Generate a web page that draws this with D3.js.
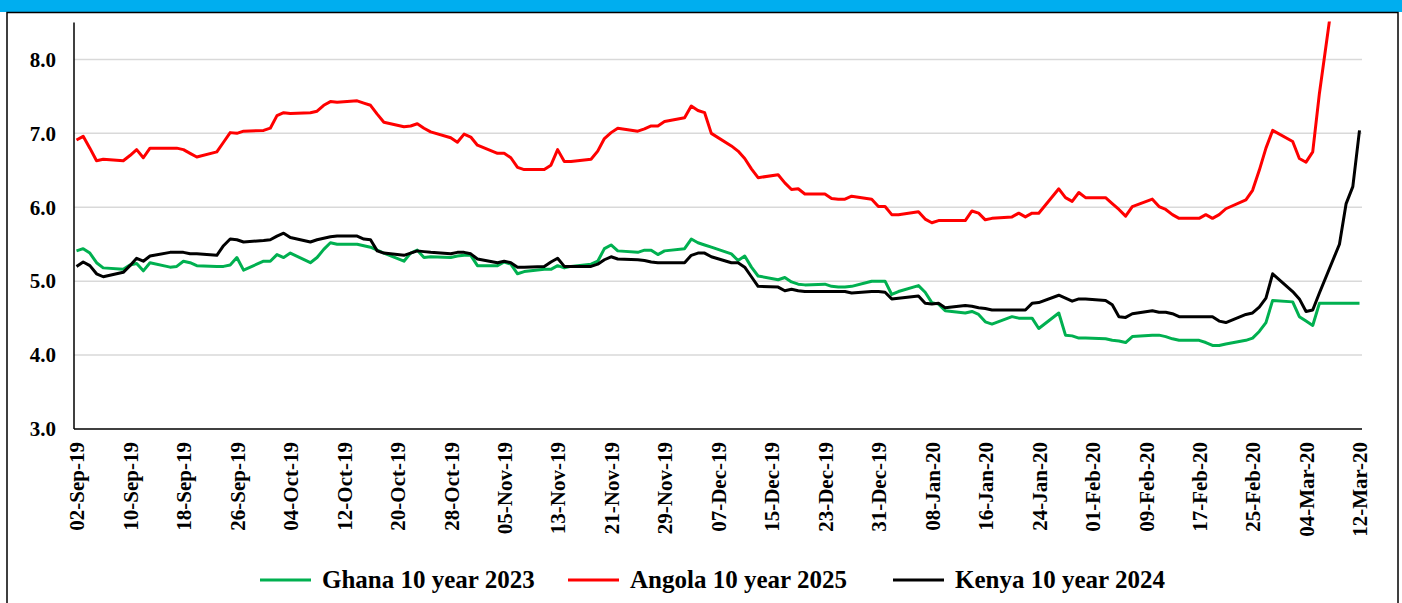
<!DOCTYPE html>
<html>
<head>
<meta charset="utf-8">
<script src="https://cdn.jsdelivr.net/npm/d3@7"></script>
<style>
    body { margin: 0; background: #ffffff; }
    text { font-family: "Liberation Serif", "Times New Roman", serif; font-weight: bold; fill: #000; }
</style>
</head>
<body>
<div id="chart"></div>
<script>
// first and last trading day shown
var startDate = "2019-09-02";
var endDate = "2020-03-12";

var tickDates = ["2019-09-02", "2019-09-10", "2019-09-18", "2019-09-26", "2019-10-04",
    "2019-10-12", "2019-10-20", "2019-10-28", "2019-11-05", "2019-11-13", "2019-11-21",
    "2019-11-29", "2019-12-07", "2019-12-15", "2019-12-23", "2019-12-31", "2020-01-08",
    "2020-01-16", "2020-01-24", "2020-02-01", "2020-02-09", "2020-02-17", "2020-02-25",
    "2020-03-04", "2020-03-12"];

var yTicks = [3, 4, 5, 6, 7, 8];

var seriesNames = ["Ghana 10 year 2023", "Angola 10 year 2025", "Kenya 10 year 2024"];

// one value per business day (Mon-Fri), one row per week
var ghana = [
    5.41, 5.44, 5.38, 5.25, 5.18,
    5.16, 5.22, 5.24, 5.14, 5.25,
    5.19, 5.20, 5.27, 5.25, 5.21,
    5.20, 5.20, 5.22, 5.32, 5.15,
    5.27, 5.27, 5.36, 5.32, 5.38,
    5.25, 5.32, 5.43, 5.52, 5.50,
    5.50, 5.48, 5.46, 5.42, 5.38,
    5.27, 5.38, 5.42, 5.32, 5.33,
    5.32, 5.34, 5.35, 5.35, 5.21,
    5.21, 5.26, 5.23, 5.10, 5.13,
    5.16, 5.16, 5.21, 5.18, 5.20,
    5.23, 5.27, 5.44, 5.49, 5.41,
    5.39, 5.42, 5.42, 5.36, 5.41,
    5.44, 5.57, 5.52, 5.49, 5.46,
    5.37, 5.28, 5.34, 5.19, 5.07,
    5.02, 5.05, 4.99, 4.96, 4.95,
    4.96, 4.93, 4.92, 4.92, 4.93,
    5.00, 5.00, 5.00, 4.82, 4.86,
    4.94, 4.85, 4.71, 4.69, 4.60,
    4.57, 4.59, 4.55, 4.45, 4.42,
    4.52, 4.50, 4.50, 4.50, 4.36,
    4.57, 4.27, 4.26, 4.23, 4.23,
    4.22, 4.20, 4.19, 4.17, 4.25,
    4.27, 4.27, 4.25, 4.22, 4.20,
    4.20, 4.17, 4.13, 4.13, 4.15,
    4.20, 4.23, 4.32, 4.44, 4.74,
    4.72, 4.52, 4.46, 4.40, 4.70,
    4.70, 4.70, 4.70, 4.70
];

var angola = [
    6.91, 6.96, 6.80, 6.63, 6.65,
    6.63, 6.70, 6.78, 6.67, 6.80,
    6.80, 6.80, 6.78, 6.73, 6.68,
    6.75, 6.88, 7.01, 7.00, 7.03,
    7.04, 7.07, 7.24, 7.28, 7.27,
    7.28, 7.30, 7.38, 7.43, 7.42,
    7.44, 7.41, 7.38, 7.26, 7.15,
    7.09, 7.10, 7.13, 7.07, 7.02,
    6.94, 6.88, 6.99, 6.95, 6.84,
    6.73, 6.73, 6.67, 6.54, 6.51,
    6.51, 6.57, 6.78, 6.62, 6.62,
    6.65, 6.76, 6.93, 7.01, 7.07,
    7.03, 7.06, 7.10, 7.10, 7.16,
    7.21, 7.37, 7.31, 7.28, 7.00,
    6.83, 6.76, 6.66, 6.52, 6.40,
    6.44, 6.33, 6.24, 6.25, 6.18,
    6.18, 6.12, 6.11, 6.11, 6.15,
    6.11, 6.01, 6.01, 5.90, 5.90,
    5.94, 5.84, 5.79, 5.82, 5.82,
    5.82, 5.95, 5.92, 5.83, 5.85,
    5.87, 5.92, 5.87, 5.92, 5.92,
    6.25, 6.13, 6.08, 6.20, 6.13,
    6.13, 6.05, 5.97, 5.88, 6.01,
    6.11, 6.01, 5.97, 5.90, 5.85,
    5.85, 5.90, 5.85, 5.90, 5.98,
    6.10, 6.23, 6.50, 6.80, 7.04,
    6.89, 6.66, 6.61, 6.75, 7.54,
    9.50, 9.90, 10.30, 10.60
];

var kenya = [
    5.20, 5.26, 5.21, 5.10, 5.06,
    5.12, 5.21, 5.31, 5.27, 5.34,
    5.39, 5.39, 5.39, 5.37, 5.37,
    5.35, 5.48, 5.57, 5.56, 5.53,
    5.55, 5.56, 5.61, 5.65, 5.59,
    5.53, 5.56, 5.58, 5.60, 5.61,
    5.61, 5.57, 5.56, 5.41, 5.38,
    5.35, 5.38, 5.41, 5.40, 5.39,
    5.37, 5.39, 5.39, 5.37, 5.30,
    5.25, 5.27, 5.25, 5.19, 5.19,
    5.20, 5.26, 5.31, 5.20, 5.20,
    5.20, 5.23, 5.29, 5.33, 5.30,
    5.29, 5.28, 5.26, 5.25, 5.25,
    5.25, 5.35, 5.38, 5.38, 5.33,
    5.25, 5.25, 5.19, 5.06, 4.93,
    4.92, 4.87, 4.89, 4.87, 4.86,
    4.86, 4.86, 4.86, 4.86, 4.84,
    4.86, 4.86, 4.85, 4.76, 4.77,
    4.80, 4.70, 4.69, 4.70, 4.64,
    4.67, 4.66, 4.64, 4.63, 4.61,
    4.61, 4.61, 4.61, 4.70, 4.71,
    4.81, 4.77, 4.73, 4.76, 4.76,
    4.74, 4.68, 4.52, 4.51, 4.56,
    4.60, 4.58, 4.58, 4.56, 4.52,
    4.52, 4.52, 4.52, 4.46, 4.44,
    4.55, 4.57, 4.65, 4.77, 5.10,
    4.86, 4.76, 4.59, 4.61, 4.84,
    5.50, 6.05, 6.28, 7.04
];

function init() {
    var w = 1402;
    var h = 603;
    var plotLeft = 74, plotRight = 1362, plotTop = 22.5, plotBottom = 429;
    var colors = ["#00b050", "#ff0000", "#000000"];

    var parse = d3.utcParse("%Y-%m-%d");
    var fmt = d3.utcFormat("%d-%b-%y");

    var t0 = parse(startDate), t1 = parse(endDate);
    var days = d3.utcDays(t0, d3.utcDay.offset(t1, 1)).filter(function (d) {
        return d.getUTCDay() !== 0 && d.getUTCDay() !== 6;
    });

    var xScale = d3.scaleUtc()
        .domain([t0, t1])
        .range([plotLeft + 2.5, plotRight - 2.5]);

    var yScale = d3.scaleLinear()
        .domain([3, 8.5])
        .range([plotBottom, plotTop]);

    var svg = d3.select("#chart")
        .append("svg")
        .attr("width", w)
        .attr("height", h);

    // header band and outer frame
    svg.append("rect")
        .attr("x", 0).attr("y", 0)
        .attr("width", w).attr("height", 12)
        .attr("fill", "#00aeef");

    svg.append("rect")
        .attr("x", 7).attr("y", 12.5)
        .attr("width", 1391).attr("height", 640)
        .attr("fill", "none")
        .attr("stroke", "#000")
        .attr("stroke-width", 1.5);

    // gridlines
    svg.selectAll(".grid")
        .data(yTicks.filter(function (d) { return d > 3; }))
        .enter()
        .append("line")
        .attr("class", "grid")
        .attr("x1", plotLeft)
        .attr("x2", plotRight)
        .attr("y1", function (d) { return yScale(d); })
        .attr("y2", function (d) { return yScale(d); })
        .attr("stroke", "#d9d9d9")
        .attr("stroke-width", 1.5);

    // y axis
    var yAxis = svg.append("g")
        .attr("transform", "translate(" + plotLeft + ",0)")
        .call(d3.axisLeft(yScale).tickValues(yTicks).tickSize(0).tickPadding(18).tickFormat(d3.format(".1f")));
    yAxis.select(".domain").remove();
    yAxis.selectAll("text")
        .attr("font-size", 21)
        .style("font-family", "Liberation Serif")
        .style("font-weight", "bold")
        .attr("fill", "#000");

    // x axis
    var xAxis = svg.append("g")
        .attr("transform", "translate(0," + plotBottom + ")")
        .call(d3.axisBottom(xScale).tickValues(tickDates.map(parse)).tickSize(0).tickFormat(fmt));
    xAxis.select(".domain").remove();
    xAxis.selectAll("text")
        .attr("font-size", 21)
        .style("font-family", "Liberation Serif")
        .style("font-weight", "bold")
        .attr("fill", "#000")
        .attr("text-anchor", "end")
        .attr("transform", "rotate(-90)")
        .attr("x", -13)
        .attr("y", 0)
        .attr("dy", "0.35em");

    svg.append("line")
        .attr("x1", plotLeft).attr("x2", plotLeft)
        .attr("y1", plotTop).attr("y2", plotBottom)
        .attr("stroke", "#000").attr("stroke-width", 1.5);
    svg.append("line")
        .attr("x1", plotLeft).attr("x2", plotRight)
        .attr("y1", plotBottom).attr("y2", plotBottom)
        .attr("stroke", "#000").attr("stroke-width", 1.5);

    // lines
    svg.append("clipPath")
        .attr("id", "plotClip")
        .append("rect")
        .attr("x", plotLeft).attr("y", plotTop - 1)
        .attr("width", plotRight - plotLeft + 4)
        .attr("height", plotBottom - plotTop + 1);

    var series = [ghana, angola, kenya];

    var line = d3.line()
        .x(function (d, i) { return xScale(days[i]); })
        .y(function (d) { return yScale(d); });

    svg.append("g")
        .attr("clip-path", "url(#plotClip)")
        .selectAll("path")
        .data(series)
        .enter()
        .append("path")
        .attr("d", line)
        .attr("fill", "none")
        .attr("stroke", function (d, i) { return colors[i]; })
        .attr("stroke-width", 3)
        .attr("stroke-linejoin", "round");

    // legend
    var legendX = [260, 568, 893];
    var legend = svg.selectAll(".legend")
        .data(seriesNames)
        .enter()
        .append("g")
        .attr("class", "legend")
        .attr("transform", function (d, i) { return "translate(" + legendX[i] + ",580)"; });

    legend.append("line")
        .attr("x1", 0).attr("x2", 51)
        .attr("y1", 0).attr("y2", 0)
        .attr("stroke", function (d, i) { return colors[i]; })
        .attr("stroke-width", 3);

    legend.append("text")
        .attr("x", 62)
        .attr("y", 8)
        .attr("font-size", 25)
        .text(function (d) { return d; });
}

window.onload = init;
</script>
</body>
</html>
